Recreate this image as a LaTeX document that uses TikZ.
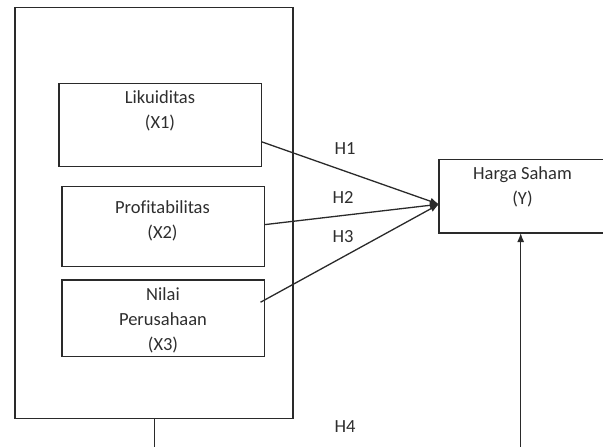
\documentclass[tikz,border=0pt]{standalone}
\usepackage{fontspec}
\setmainfont[Ligatures=NoCommon]{Carlito}
\usetikzlibrary{arrows.meta,calc}
\definecolor{ink}{HTML}{2A2A2A}
\definecolor{txt}{HTML}{2E2E2E}
\begin{document}
\begin{tikzpicture}[x=1pt,y=-1pt,
  box/.style={draw=ink, line width=1.3pt, inner sep=0pt, outer sep=0pt, anchor=north west},
  lbl/.style={text=txt, inner sep=0pt, align=center, anchor=north, font=\fontsize{18.5}{25}\selectfont},
  hyp/.style={text=txt, inner sep=0pt, font=\fontsize{18.5}{22}\selectfont},
  conn/.style={draw=ink, line width=1.3pt},
  tip/.style={-{Latex[length=9pt,width=7pt]}}
]
\clip (0,0) rectangle (603,447);
% outer frame
\node[box, minimum width=278pt, minimum height=411pt] (outer) at (15,7.5) {};
% independent variables
\node[box, minimum width=202.5pt, minimum height=83.5pt] (x1) at (59,83.3) {};
\node[box, minimum width=202.5pt, minimum height=79.5pt] (x2) at (62,186.7) {};
\node[box, minimum width=202.5pt, minimum height=76.5pt] (x3) at (62,280) {};
% dependent variable
\node[box, minimum width=180pt, minimum height=73.5pt] (y) at (439,159.5) {};
% texts
\node[lbl] (t1) at (160,90) {Likuiditas\\(X1)};
\node[lbl] (t2) at (162.5,200) {Profitabilitas\\(X2)};
\node[lbl] (t3) at (163,287) {Nilai\\Perusahaan\\(X3)};
\node[lbl] (ty) at (522.5,166) {Harga Saham\\(Y)};
% hypothesis labels
\node[hyp] (h1) at (345,149) {H1};
\node[hyp] (h2) at (343,197) {H2};
\node[hyp] (h3) at (343,236.5) {H3};
\node[hyp] (h4) at (345,426.5) {H4};
% connectors
\coordinate (meet) at ($(y.west)+(0,8)$);
\draw[conn,tip] ($(x1.east)+(0,16.7)$) -- (meet);
\draw[conn,tip] ($(x2.east)+(0,-1.8)$) -- (meet);
\draw[conn,tip] ($(x3.east)+(-4,-16)$) -- (meet);
\coordinate (b1) at ($(outer.south)+(0.5,35)$);
\coordinate (b2) at (520.7,450);
\draw[conn] ($(outer.south)+(0.5,0)$) -- (b1);
\draw[conn,tip] (b2) -- (b2 |- y.south);
\end{tikzpicture}
\end{document}
